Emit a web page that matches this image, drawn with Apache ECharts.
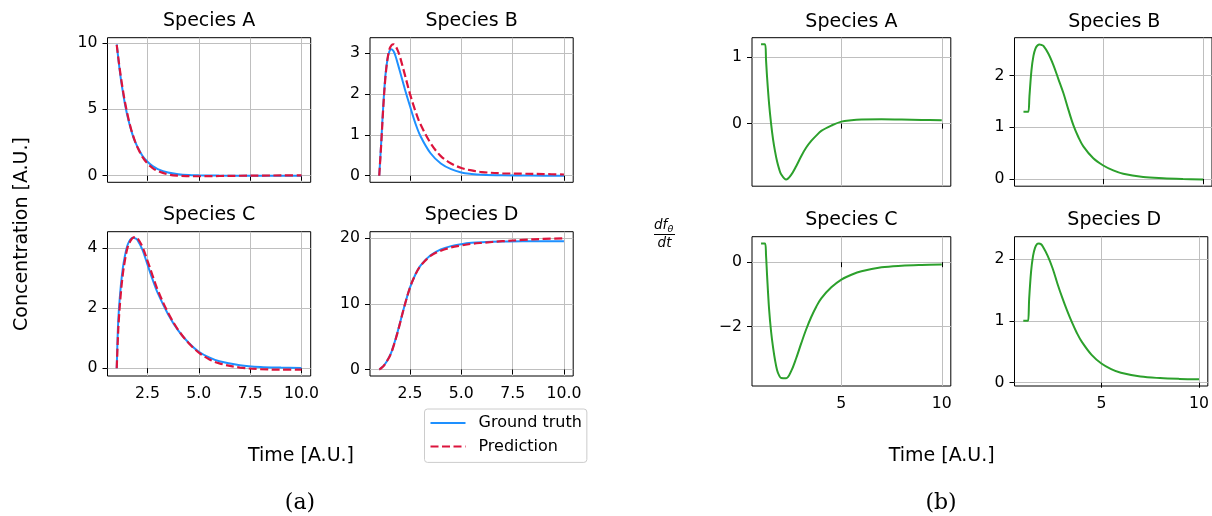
<!DOCTYPE html>
<html>
<head>
<meta charset="utf-8">
<script src="https://cdn.jsdelivr.net/npm/echarts@6/dist/echarts.min.js"></script>
<style>
  html, body { margin: 0; padding: 0; background: #fff; }
  #chart { width: 1212px; height: 516px; }
</style>
</head>
<body>
<div id="chart"></div>
<script>
// ---- (a) concentrations: ground truth vs prediction ----
const timeA = [1, 1.05, 1.1, 1.2, 1.3, 1.4, 1.5, 1.6, 1.7, 1.8, 1.9, 2, 2.25, 2.5, 2.75, 3, 3.5, 4, 4.5, 5, 5.5, 6, 7, 8, 9, 10];

const truthA = [9.9, 9.2, 8.5, 7.3, 6.3, 5.4, 4.65, 4.0, 3.45, 2.95, 2.55, 2.2, 1.5, 1.05, 0.72, 0.5, 0.24, 0.11, 0.05, 0.03, 0.02, 0.01, 0.005, 0, 0, 0];
const predA  = [9.85, 9.2, 8.6, 7.45, 6.45, 5.55, 4.8, 4.1, 3.5, 3.0, 2.55, 2.18, 1.42, 0.92, 0.58, 0.35, 0.1, 0.0, -0.03, -0.04, -0.03, -0.02, 0.0, 0.01, 0.02, 0.02];

const truthB = [0, 0.42, 0.85, 1.75, 2.45, 2.85, 3.05, 3.1, 3.05, 2.92, 2.75, 2.57, 2.12, 1.7, 1.3, 0.98, 0.55, 0.3, 0.16, 0.08, 0.045, 0.025, 0.01, 0.005, 0, 0];
const predB  = [0, 0.4, 0.8, 1.7, 2.4, 2.85, 3.1, 3.2, 3.22, 3.17, 3.07, 2.93, 2.47, 2.0, 1.6, 1.27, 0.8, 0.48, 0.3, 0.19, 0.13, 0.09, 0.06, 0.05, 0.04, 0.03];

const truthC = [0, 1.2, 1.9, 2.75, 3.35, 3.75, 4.05, 4.22, 4.32, 4.35, 4.33, 4.28, 3.95, 3.45, 2.95, 2.5, 1.8, 1.25, 0.85, 0.55, 0.36, 0.23, 0.1, 0.04, 0.02, 0.01];
const predC  = [0, 0.9, 1.6, 2.5, 3.15, 3.6, 3.95, 4.15, 4.28, 4.35, 4.37, 4.34, 4.05, 3.58, 3.08, 2.6, 1.85, 1.27, 0.84, 0.52, 0.3, 0.16, 0.02, -0.03, -0.05, -0.05];

const truthD = [0, 0.1, 0.25, 0.5, 0.9, 1.4, 2.0, 2.7, 3.65, 4.7, 5.8, 6.95, 9.9, 12.5, 14.4, 15.8, 17.4, 18.3, 18.8, 19.1, 19.3, 19.4, 19.5, 19.55, 19.55, 19.55];
const predD  = [0, 0.08, 0.2, 0.5, 0.9, 1.4, 1.95, 2.65, 3.6, 4.6, 5.7, 6.9, 9.9, 12.5, 14.4, 15.75, 17.3, 18.1, 18.6, 18.9, 19.15, 19.3, 19.55, 19.75, 19.9, 20.0];

// ---- (b) learned derivative df/dt ----
const timeB = [1, 1.2, 1.25, 1.3, 1.4, 1.5, 1.6, 1.7, 1.8, 1.9, 2, 2.25, 2.5, 2.75, 3, 3.25, 3.5, 3.75, 4, 4.5, 5, 5.5, 6, 7, 8, 9, 10];

const derivA = [1.19, 1.19, 0.95, 0.7, 0.3, 0.0, -0.24, -0.42, -0.57, -0.68, -0.76, -0.84, -0.77, -0.64, -0.49, -0.36, -0.26, -0.18, -0.11, -0.03, 0.03, 0.05, 0.06, 0.065, 0.06, 0.055, 0.05];
const derivB = [1.3, 1.3, 1.3, 1.6, 2.1, 2.38, 2.52, 2.58, 2.6, 2.59, 2.57, 2.42, 2.2, 1.93, 1.66, 1.34, 1.04, 0.81, 0.63, 0.4, 0.26, 0.165, 0.1, 0.04, 0.015, 0.0, -0.01];
const derivC = [0.58, 0.58, 0.2, -0.4, -1.45, -2.15, -2.65, -3.05, -3.35, -3.51, -3.59, -3.6, -3.38, -2.98, -2.52, -2.08, -1.7, -1.38, -1.12, -0.78, -0.54, -0.39, -0.28, -0.16, -0.11, -0.085, -0.07];
const derivD = [1.0, 1.0, 1.0, 1.35, 1.8, 2.05, 2.18, 2.24, 2.25, 2.24, 2.2, 2.05, 1.85, 1.6, 1.37, 1.16, 0.97, 0.8, 0.66, 0.45, 0.31, 0.22, 0.16, 0.1, 0.075, 0.062, 0.055];

// ---- tick values ----
const xTicksA = [2.5, 5, 7.5, 10];
const xTicksB = [5, 10];
const yTicks = [
  [0, 5, 10], [0, 1, 2, 3], [0, 2, 4], [0, 10, 20],
  [0, 1], [0, 1, 2], [-2, 0], [0, 1, 2]
];
const titles = ['Species A', 'Species B', 'Species C', 'Species D',
                'Species A', 'Species B', 'Species C', 'Species D'];

const FONT = 'DejaVu Sans';
const pair = (xs, ys) => xs.map((x, i) => [x, ys[i]]);
const fmtNum = v => (v < 0 ? '\u2212' + Math.abs(v) : String(v));

// panel boxes (left, top, width, height) and y ranges
const boxes = [
  [107.5, 37.7, 203.2, 144.6], [370, 37.7, 203.2, 144.6],
  [107.5, 231.7, 203.2, 144.3], [370, 231.7, 203.2, 144.3],
  [752, 37.7, 198.8, 148.5], [1014.5, 37.7, 199.5, 148.5],
  [752, 236.7, 198.8, 149.3], [1014.5, 236.7, 199.5, 149.3]
];
const yRanges = [
  [-0.495, 10.395], [-0.161, 3.381], [-0.26, 4.55], [-1, 21],
  [-0.94, 1.29], [-0.14, 2.73], [-3.84, 0.79], [-0.053, 2.36]
];

const grids = [], xAxes = [], yAxes = [];
boxes.forEach((b, i) => {
  grids.push({
    left: b[0], top: b[1], width: b[2], height: b[3],
    show: true, borderColor: '#000', borderWidth: 1, backgroundColor: 'transparent'
  });
  const partA = i < 4;
  const bottomRow = (i % 4) >= 2;
  xAxes.push({
    type: 'value', gridIndex: i, min: 0.55, max: 10.45,
    axisLine: { show: false },
    axisTick: { show: true, length: 5, lineStyle: { color: '#000', width: 1 },
                customValues: partA ? xTicksA : xTicksB },
    axisLabel: { show: bottomRow, color: '#000', fontFamily: FONT, fontSize: 15.7, margin: 10,
                 customValues: partA ? xTicksA : xTicksB,
                 formatter: v => partA ? v.toFixed(1) : String(v) },
    splitLine: { show: true, lineStyle: { color: '#bfbfbf', width: 1 } }
  });
  yAxes.push({
    type: 'value', gridIndex: i, min: yRanges[i][0], max: yRanges[i][1],
    axisLine: { show: false },
    axisTick: { show: true, length: 5, lineStyle: { color: '#000', width: 1 },
                customValues: yTicks[i] },
    axisLabel: { color: '#000', fontFamily: FONT, fontSize: 15.7, margin: 10,
                 customValues: yTicks[i], formatter: fmtNum },
    splitLine: { show: true, lineStyle: { color: '#bfbfbf', width: 1 } }
  });
});

const truthSets = [truthA, truthB, truthC, truthD];
const predSets = [predA, predB, predC, predD];
const derivSets = [derivA, derivB, derivC, derivD];

const series = [];
truthSets.forEach((ys, i) => {
  series.push({
    name: 'Ground truth', type: 'line', xAxisIndex: i, yAxisIndex: i,
    data: pair(timeA, ys), symbol: 'none', smooth: 0.35,
    lineStyle: { color: '#1e90ff', width: 2 }, itemStyle: { color: '#1e90ff' },
    animation: false, z: 3
  });
});
predSets.forEach((ys, i) => {
  series.push({
    name: 'Prediction', type: 'line', xAxisIndex: i, yAxisIndex: i,
    data: pair(timeA, ys), symbol: 'none', smooth: 0.35,
    lineStyle: { color: '#dc143c', width: 2.2, type: [8, 3.5] }, itemStyle: { color: '#dc143c' },
    animation: false, z: 4
  });
});
derivSets.forEach((ys, i) => {
  series.push({
    name: 'df/dt ' + titles[i + 4], type: 'line', xAxisIndex: i + 4, yAxisIndex: i + 4,
    data: pair(timeB, ys), symbol: 'none', smooth: 0.35,
    lineStyle: { color: '#2ca02c', width: 2 }, itemStyle: { color: '#2ca02c' },
    animation: false, z: 3
  });
});

// panel titles, axis labels and sub-figure captions
const graphics = [];
boxes.forEach((b, i) => {
  const topRow = (i % 4) < 2;
  const yOff = i < 4 ? (topRow ? 21.5 : 214.7) : (topRow ? 21.7 : 220.3);
  graphics.push({
    type: 'text', x: b[0] + b[2] / 2, y: yOff,
    style: { text: titles[i], fontFamily: FONT, fontSize: 19, fill: '#000',
             align: 'center', verticalAlign: 'middle' }
  });
});
graphics.push(
  { type: 'text', x: 301, y: 456,
    style: { text: 'Time [A.U.]', fontFamily: FONT, fontSize: 19, fill: '#000', align: 'center', verticalAlign: 'middle' } },
  { type: 'text', x: 941.7, y: 456,
    style: { text: 'Time [A.U.]', fontFamily: FONT, fontSize: 19, fill: '#000', align: 'center', verticalAlign: 'middle' } },
  { type: 'text', x: 22, y: 234, rotation: Math.PI / 2,
    style: { text: 'Concentration [A.U.]', fontFamily: FONT, fontSize: 19, fill: '#000', align: 'center', verticalAlign: 'middle' } },
  { type: 'text', x: 300, y: 503,
    style: { text: '(a)', fontFamily: 'DejaVu Serif', fontSize: 22, fill: '#000', align: 'center', verticalAlign: 'middle' } },
  { type: 'text', x: 941, y: 503,
    style: { text: '(b)', fontFamily: 'DejaVu Serif', fontSize: 22, fill: '#000', align: 'center', verticalAlign: 'middle' } },
  // d f_theta / d t
  { type: 'text', x: 654, y: 225.5,
    style: { text: 'df', fontFamily: FONT, fontStyle: 'italic', fontSize: 13.5, fill: '#000', align: 'left', verticalAlign: 'middle' } },
  { type: 'text', x: 667.5, y: 229.5,
    style: { text: '\u03b8', fontFamily: FONT, fontStyle: 'italic', fontSize: 9.5, fill: '#000', align: 'left', verticalAlign: 'middle' } },
  { type: 'line', shape: { x1: 654, y1: 234.5, x2: 675, y2: 234.5 },
    style: { stroke: '#000', lineWidth: 1 } },
  { type: 'text', x: 664.5, y: 243,
    style: { text: 'dt', fontFamily: FONT, fontStyle: 'italic', fontSize: 13.5, fill: '#000', align: 'center', verticalAlign: 'middle' } }
);

const chart = echarts.init(document.getElementById('chart'), null, { renderer: 'canvas' });
chart.setOption({
  animation: false,
  backgroundColor: '#fff',
  grid: grids,
  xAxis: xAxes,
  yAxis: yAxes,
  series: series,
  legend: {
    data: ['Ground truth', 'Prediction'],
    orient: 'vertical', left: 424.5, top: 409,
    padding: [6, 5, 8, 5], itemGap: 7.4, itemWidth: 35, itemHeight: 14,
    borderColor: '#cccccc', borderWidth: 1, borderRadius: 3, backgroundColor: '#fff',
    selectedMode: false,
    itemStyle: { opacity: 0 },
    textStyle: { fontFamily: FONT, fontSize: 16, color: '#000', lineHeight: 16, padding: [0, 0, 0, 8] }
  },
  graphic: graphics
});
</script>
</body>
</html>
